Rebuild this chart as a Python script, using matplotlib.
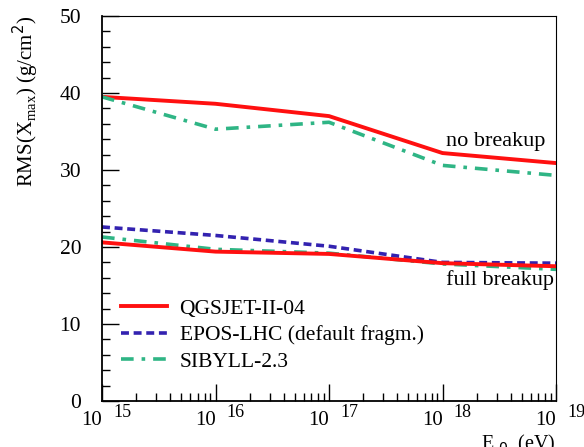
import numpy as np
import matplotlib.pyplot as plt
from matplotlib.ticker import FixedLocator, MultipleLocator

plt.rcParams['font.family'] = ['Liberation Serif', 'DejaVu Serif']

energy = [1e15, 1e16, 1e17, 1e18, 1e19]

# no breakup
qgs_nb = [39.5, 38.6, 37.0, 32.2, 30.9]
sib_nb = [39.5, 35.3, 36.2, 30.6, 29.3]
# full breakup
qgs_fb = [20.6, 19.4, 19.1, 17.9, 17.5]
epos_fb = [22.6, 21.5, 20.1, 18.0, 17.9]
sib_fb = [21.3, 19.7, 19.2, 17.8, 17.1]

red = '#ff1010'
blue = '#3322b0'
green = '#2fb585'

fig = plt.figure(figsize=(5.84, 4.47), dpi=100)
ax = fig.add_axes([102 / 584, 1 - 401 / 447, 454 / 584, 385 / 447])

ax.plot(energy, qgs_nb, color=red, lw=2.8, label='QGSJET-II-04')
ax.plot(energy, sib_nb, color=green, lw=2.6, dashes=(3.5, 2.2, 1, 2.2))
ax.plot(energy, epos_fb, color=blue, lw=2.6, dashes=(2.2, 1.3), label='EPOS-LHC (default fragm.)')
ax.plot(energy, sib_fb, color=green, lw=2.6, dashes=(3.5, 2.2, 1, 2.2), label='SIBYLL-2.3')
ax.plot(energy, qgs_fb, color=red, lw=2.8)

ax.set_xscale('log')
ax.set_xlim(1e15, 1e19)
ax.set_ylim(0, 50)

ax.yaxis.set_major_locator(MultipleLocator(10))
ax.yaxis.set_minor_locator(MultipleLocator(2))
minor_x = [m * 10.0**e for e in range(15, 19) for m in range(2, 10)]
ax.xaxis.set_minor_locator(FixedLocator(minor_x))
ax.tick_params(which='both', direction='in', top=False, right=False, width=1.0)
ax.tick_params(which='major', length=12)
ax.tick_params(which='minor', length=6)
ax.tick_params(axis='y', labelsize=15.5, pad=15)
ax.set_xticklabels([])
ax.xaxis.set_ticklabels([], minor=True)
for s in ['left', 'bottom']:
    ax.spines[s].set_linewidth(1.3)
for s in ['top', 'right']:
    ax.spines[s].set_linewidth(0.8)

# ROOT-style x tick labels
for e in range(15, 20):
    x = 10.0**e
    ax.text(x, -0.026, '10', transform=ax.get_xaxis_transform(), ha='right', va='top', fontsize=15)
    ax.text(x * 1.25, -0.008, str(e), transform=ax.get_xaxis_transform(), ha='left', va='top', fontsize=13)

ax.text(1.0, -0.083, r'E$_{\ 0}$  (eV)', transform=ax.transAxes, ha='right', va='top', fontsize=14.5)
fig.text(0.018, 0.965, r'RMS(X$_{\mathregular{max}}$) (g/cm$^{2}$)', rotation=90, ha='left', va='top', fontsize=15)

ax.text(0.976, 0.65, 'no breakup', transform=ax.transAxes, ha='right', va='bottom', fontsize=16)
ax.text(0.996, 0.34, 'full breakup', transform=ax.transAxes, ha='right', va='top', fontsize=16)

ax.legend(loc='lower left', bbox_to_anchor=(0.0, 0.025), frameon=False, fontsize=15.5,
          handlelength=2.1, handletextpad=0.6, labelspacing=0.3)

fig.savefig('out.png', dpi=100)
